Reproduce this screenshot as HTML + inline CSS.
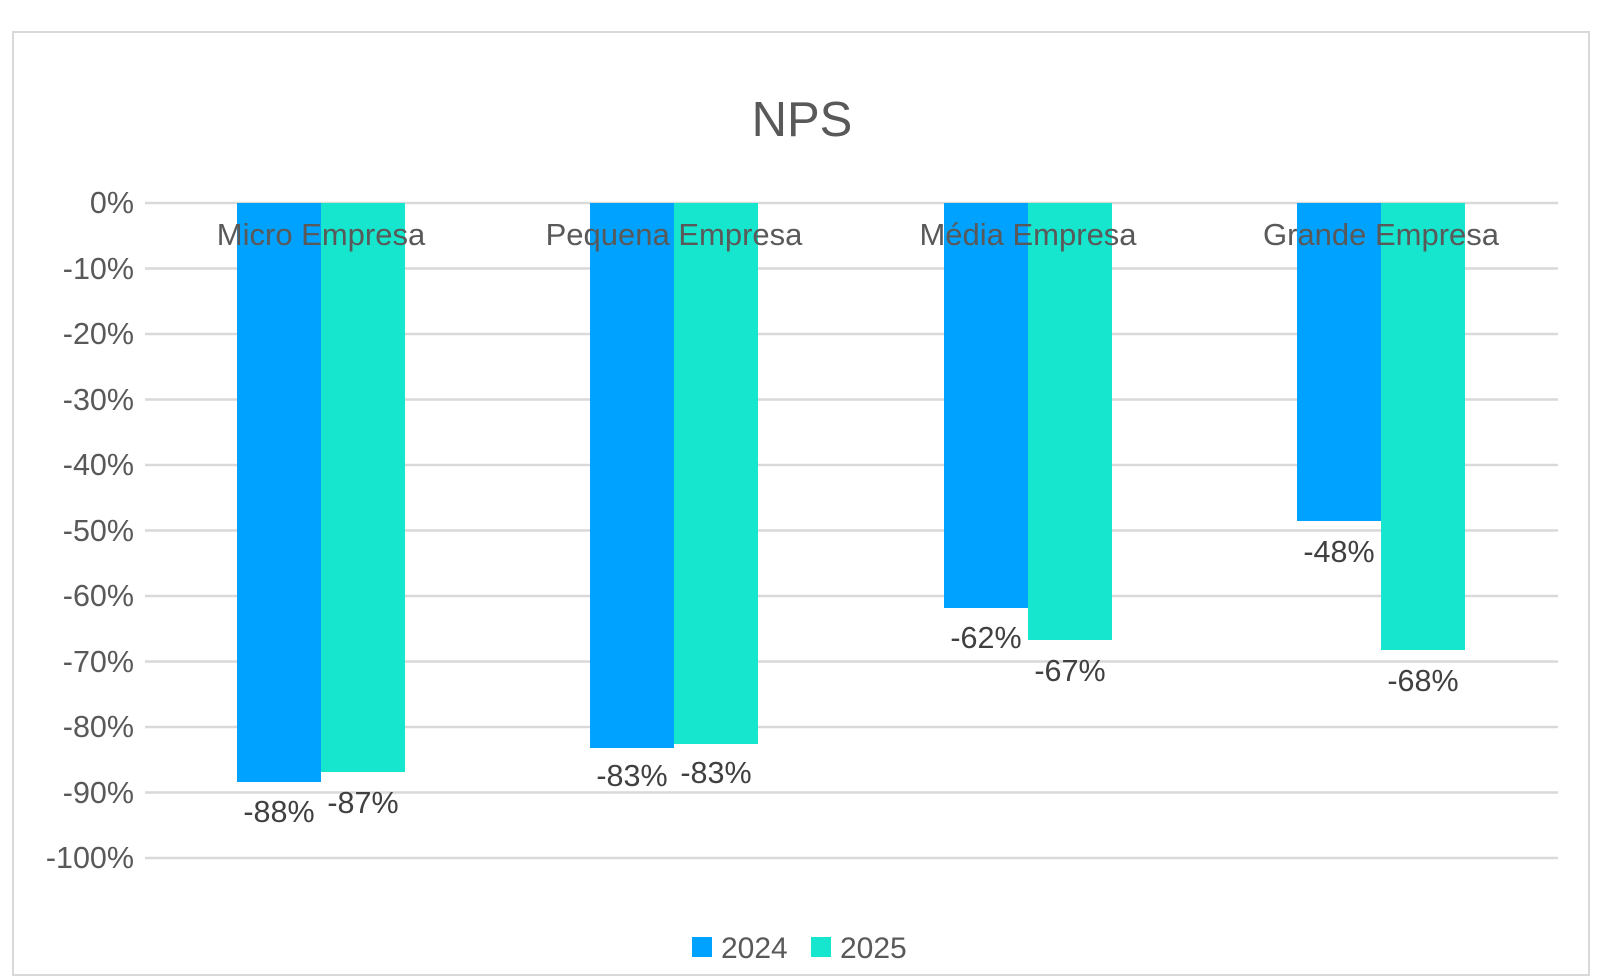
<!DOCTYPE html>
<html><head><meta charset="utf-8"><style>
html,body{margin:0;padding:0;background:#fff;}
svg{display:block;font-family:"Liberation Sans",Arial,sans-serif;}
</style></head><body>
<svg width="1623" height="978" viewBox="0 0 1623 978" xmlns="http://www.w3.org/2000/svg">
<rect x="0" y="0" width="1623" height="978" fill="#fff"/>
<rect x="13" y="32" width="1576" height="943" fill="#fff" stroke="#d9d9d9" stroke-width="2"/>
<text x="802" y="136" font-size="49" fill="#595959" text-anchor="middle">NPS</text>
<g stroke="#d9d9d9" stroke-width="2.5">
<line x1="145" x2="1558" y1="203" y2="203"/>
<line x1="145" x2="1558" y1="268.5" y2="268.5"/>
<line x1="145" x2="1558" y1="334" y2="334"/>
<line x1="145" x2="1558" y1="399.5" y2="399.5"/>
<line x1="145" x2="1558" y1="465" y2="465"/>
<line x1="145" x2="1558" y1="530.5" y2="530.5"/>
<line x1="145" x2="1558" y1="596" y2="596"/>
<line x1="145" x2="1558" y1="661.5" y2="661.5"/>
<line x1="145" x2="1558" y1="727" y2="727"/>
<line x1="145" x2="1558" y1="792.5" y2="792.5"/>
<line x1="145" x2="1558" y1="858" y2="858"/>
</g>
<g font-size="30.5" fill="#595959" text-anchor="end">
<text x="134" y="213">0%</text>
<text x="134" y="279">-10%</text>
<text x="134" y="344">-20%</text>
<text x="134" y="410">-30%</text>
<text x="134" y="475">-40%</text>
<text x="134" y="541">-50%</text>
<text x="134" y="606">-60%</text>
<text x="134" y="672">-70%</text>
<text x="134" y="737">-80%</text>
<text x="134" y="803">-90%</text>
<text x="134" y="868">-100%</text>
</g>
<g>
<rect x="237" y="203" width="84" height="579" fill="#00a2ff"/>
<rect x="321" y="203" width="84" height="569" fill="#17e6cf"/>
<rect x="590" y="203" width="84" height="545" fill="#00a2ff"/>
<rect x="674" y="203" width="84" height="541" fill="#17e6cf"/>
<rect x="944" y="203" width="84" height="405" fill="#00a2ff"/>
<rect x="1028" y="203" width="84" height="437" fill="#17e6cf"/>
<rect x="1297" y="203" width="84" height="318" fill="#00a2ff"/>
<rect x="1381" y="203" width="84" height="447" fill="#17e6cf"/>
</g>
<g font-size="31" fill="#595959" text-anchor="middle">
<text x="321" y="245">Micro Empresa</text>
<text x="674" y="245">Pequena Empresa</text>
<text x="1028" y="245">Média Empresa</text>
<text x="1381" y="245">Grande Empresa</text>
</g>
<g font-size="30.5" fill="#404040" text-anchor="middle">
<text x="279" y="822">-88%</text>
<text x="363" y="813">-87%</text>
<text x="632" y="786">-83%</text>
<text x="716" y="783">-83%</text>
<text x="986" y="648">-62%</text>
<text x="1070" y="681">-67%</text>
<text x="1339" y="562">-48%</text>
<text x="1423" y="691">-68%</text>
</g>
<rect x="692" y="937" width="20" height="20" fill="#00a2ff"/>
<text x="721" y="958" font-size="30" fill="#595959">2024</text>
<rect x="811" y="937" width="20" height="20" fill="#17e6cf"/>
<text x="840" y="958" font-size="30" fill="#595959">2025</text>
</svg>
</body></html>
